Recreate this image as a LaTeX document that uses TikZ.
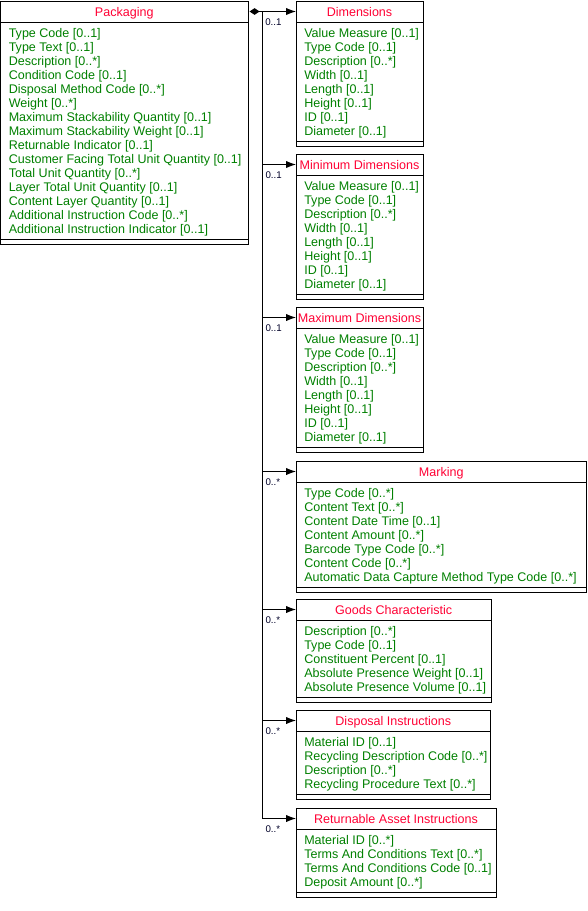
\documentclass[tikz,border=0pt]{standalone}
\usepackage{fontspec}
\setmainfont{Liberation Sans}
\usetikzlibrary{arrows.meta}
\definecolor{ttl}{RGB}{255,0,51}
\definecolor{att}{RGB}{0,128,0}
\definecolor{lblc}{RGB}{0,0,40}
\tikzset{
 box/.style={draw, line width=0.75pt, inner sep=0pt, outer sep=0pt},
 ln/.style={line width=0.75pt},
 ttlf/.style={text=ttl, font=\fontsize{9.4}{11}\selectfont, inner sep=0pt},
 attf/.style={text=att, font=\fontsize{9.4}{11}\selectfont, inner sep=0pt},
 lbl/.style={text=lblc, font=\fontsize{7.3}{8}\selectfont, inner sep=0pt, anchor=north west, xshift=2.25pt, yshift=-5pt},
 arr/.style={line width=0.75pt, -{Latex[length=7.5pt,width=5.5pt]}},
 comp/.style={line width=0.75pt, {Diamond[length=7.5pt,width=5pt,sep=1.2pt]}-{Latex[length=7.5pt,width=5.5pt]}}
}
\newcommand\umlcls[7]{%
 \node[box, anchor=north west, minimum width={#4*0.75pt}, minimum height={(33.5+14*#5)*0.75pt}] (#1) at (#2,#3) {};
 \node[box, anchor=north west, minimum width={#4*0.75pt}, minimum height={21*0.75pt}] (#1H) at (#2,#3) {};
 \draw[ln] (#2,{#3+28.5+14*#5}) -- ({#2+#4},{#3+28.5+14*#5});
 \node[ttlf, anchor=base] (#1T) at ({#2+#4/2},{#3+15}) {#6};
 \foreach \a [count=\i] in {#7} {\node[attf, anchor=base west] (#1A\i) at ({#2+8},{#3+22.5+14*\i}) {\a};}
}
\begin{document}
\begin{tikzpicture}[x=0.75pt, y=-0.75pt]
\useasboundingbox (0,0) rectangle (588,911);
\umlcls{pk}{0.5}{1}{247.5}{15}{Packaging}{Type Code [0..1], Type Text [0..1], Description [0..*], Condition Code [0..1], Disposal Method Code [0..*], Weight [0..*], Maximum Stackability Quantity [0..1], Maximum Stackability Weight [0..1], Returnable Indicator [0..1], Customer Facing Total Unit Quantity [0..1], Total Unit Quantity [0..*], Layer Total Unit Quantity [0..1], Content Layer Quantity [0..1], Additional Instruction Code [0..*], Additional Instruction Indicator [0..1]}
\umlcls{dim}{296}{1}{127}{8}{Dimensions}{Value Measure [0..1], Type Code [0..1], Description [0..*], Width [0..1], Length [0..1], Height [0..1], ID [0..1], Diameter [0..1]}
\umlcls{mind}{296}{154}{127}{8}{Minimum Dimensions}{Value Measure [0..1], Type Code [0..1], Description [0..*], Width [0..1], Length [0..1], Height [0..1], ID [0..1], Diameter [0..1]}
\umlcls{maxd}{296}{307}{127}{8}{Maximum Dimensions}{Value Measure [0..1], Type Code [0..1], Description [0..*], Width [0..1], Length [0..1], Height [0..1], ID [0..1], Diameter [0..1]}
\umlcls{mark}{296}{461}{290.5}{7}{Marking}{Type Code [0..*], Content Text [0..*], Content Date Time [0..1], Content Amount [0..*], Barcode Type Code [0..*], Content Code [0..*], Automatic Data Capture Method Type Code [0..*]}
\umlcls{goods}{296}{599}{195.5}{5}{Goods Characteristic}{Description [0..*], Type Code [0..1], Constituent Percent [0..1], Absolute Presence Weight [0..1], Absolute Presence Volume [0..1]}
\umlcls{disp}{296}{710}{194.5}{4}{Disposal Instructions}{Material ID [0..1], Recycling Description Code [0..*], Description [0..*], Recycling Procedure Text [0..*]}
\umlcls{ret}{296}{808}{200}{4}{Returnable Asset Instructions}{Material ID [0..*], Terms And Conditions Text [0..*], Terms And Conditions Code [0..1], Deposit Amount [0..*]}
% connectors
\coordinate (tr) at (262,11.5);
\draw[comp] (pkH.east) -- (dimH.west);
\draw[ln] (tr) -- (tr |- retH.west);
\node[lbl] (l1) at (tr) {0..1};
\draw[arr] (tr |- mindH.west) -- (mindH.west) node[lbl, pos=0] (l2) {0..1};
\draw[arr] (tr |- maxdH.west) -- (maxdH.west) node[lbl, pos=0] (l3) {0..1};
\draw[arr] (tr |- markH.west) -- (markH.west) node[lbl, pos=0] (l4) {0..*};
\draw[arr] (tr |- goodsH.west) -- (goodsH.west) node[lbl, pos=0] (l5) {0..*};
\draw[arr] (tr |- dispH.west) -- (dispH.west) node[lbl, pos=0] (l6) {0..*};
\draw[arr] (tr |- retH.west) -- (retH.west) node[lbl, pos=0] (l7) {0..*};
\end{tikzpicture}
\end{document}
